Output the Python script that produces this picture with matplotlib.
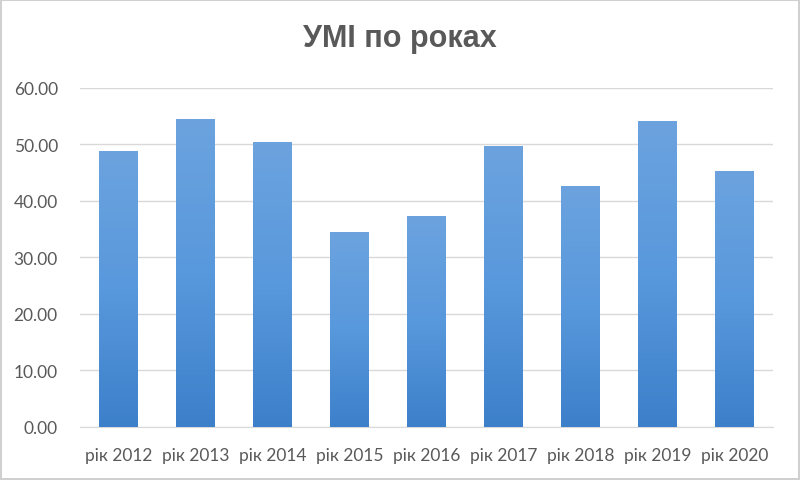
import numpy as np
import matplotlib
matplotlib.use('Agg')
import matplotlib.pyplot as plt
from matplotlib.colors import LinearSegmentedColormap

categories = ['рік 2012', 'рік 2013', 'рік 2014', 'рік 2015', 'рік 2016',
              'рік 2017', 'рік 2018', 'рік 2019', 'рік 2020']
values = [48.8, 54.4, 50.3, 34.4, 37.3, 49.7, 42.6, 54.1, 45.3]
y_ticks = [0, 10, 20, 30, 40, 50, 60]

text_color = '#595959'
grid_color = '#d9d9d9'

fig = plt.figure(figsize=(8, 4.81), dpi=100)
fig.patch.set_edgecolor('#d0d0d0')
fig.patch.set_linewidth(1.5)
ax = fig.add_axes([0.1, 0.111, 0.866, 0.705])

x = np.arange(len(categories))
bars = ax.bar(x, values, width=0.5, color='#5b9bd5', zorder=3)

# Excel-like vertical gradient inside every bar
cmap = LinearSegmentedColormap.from_list('bar', ['#3d80ca', '#5898dc', '#6ca3df'])
grad = np.linspace(0, 1, 256).reshape(-1, 1)
for b in bars:
    x0, y0 = b.get_x(), b.get_y()
    w, h = b.get_width(), b.get_height()
    im = ax.imshow(grad, cmap=cmap, origin='lower', aspect='auto',
                   extent=(x0, x0 + w, y0, y0 + h), zorder=4)
    im.set_clip_path(b)

ax.set_xlim(-0.5, len(categories) - 0.5)
ax.set_ylim(0, 60)
ax.set_yticks(y_ticks)
ax.set_yticklabels([f'{t:.2f}' for t in y_ticks])
ax.set_xticks(x)
ax.set_xticklabels(categories)

ax.grid(axis='y', color=grid_color, linewidth=1, zorder=0)
for side in ['top', 'right', 'left']:
    ax.spines[side].set_visible(False)
ax.spines['bottom'].set_color(grid_color)
ax.tick_params(axis='both', length=0, labelsize=12.5, labelcolor=text_color,
               labelfontfamily='Lato')
ax.tick_params(axis='y', pad=16)
ax.tick_params(axis='x', pad=15)

fig.text(0.5, 0.918, 'УМІ по роках', ha='center', va='center',
         fontsize=22, fontweight='bold', color=text_color,
         family='Liberation Sans')

fig.savefig('out.png', dpi=100)
